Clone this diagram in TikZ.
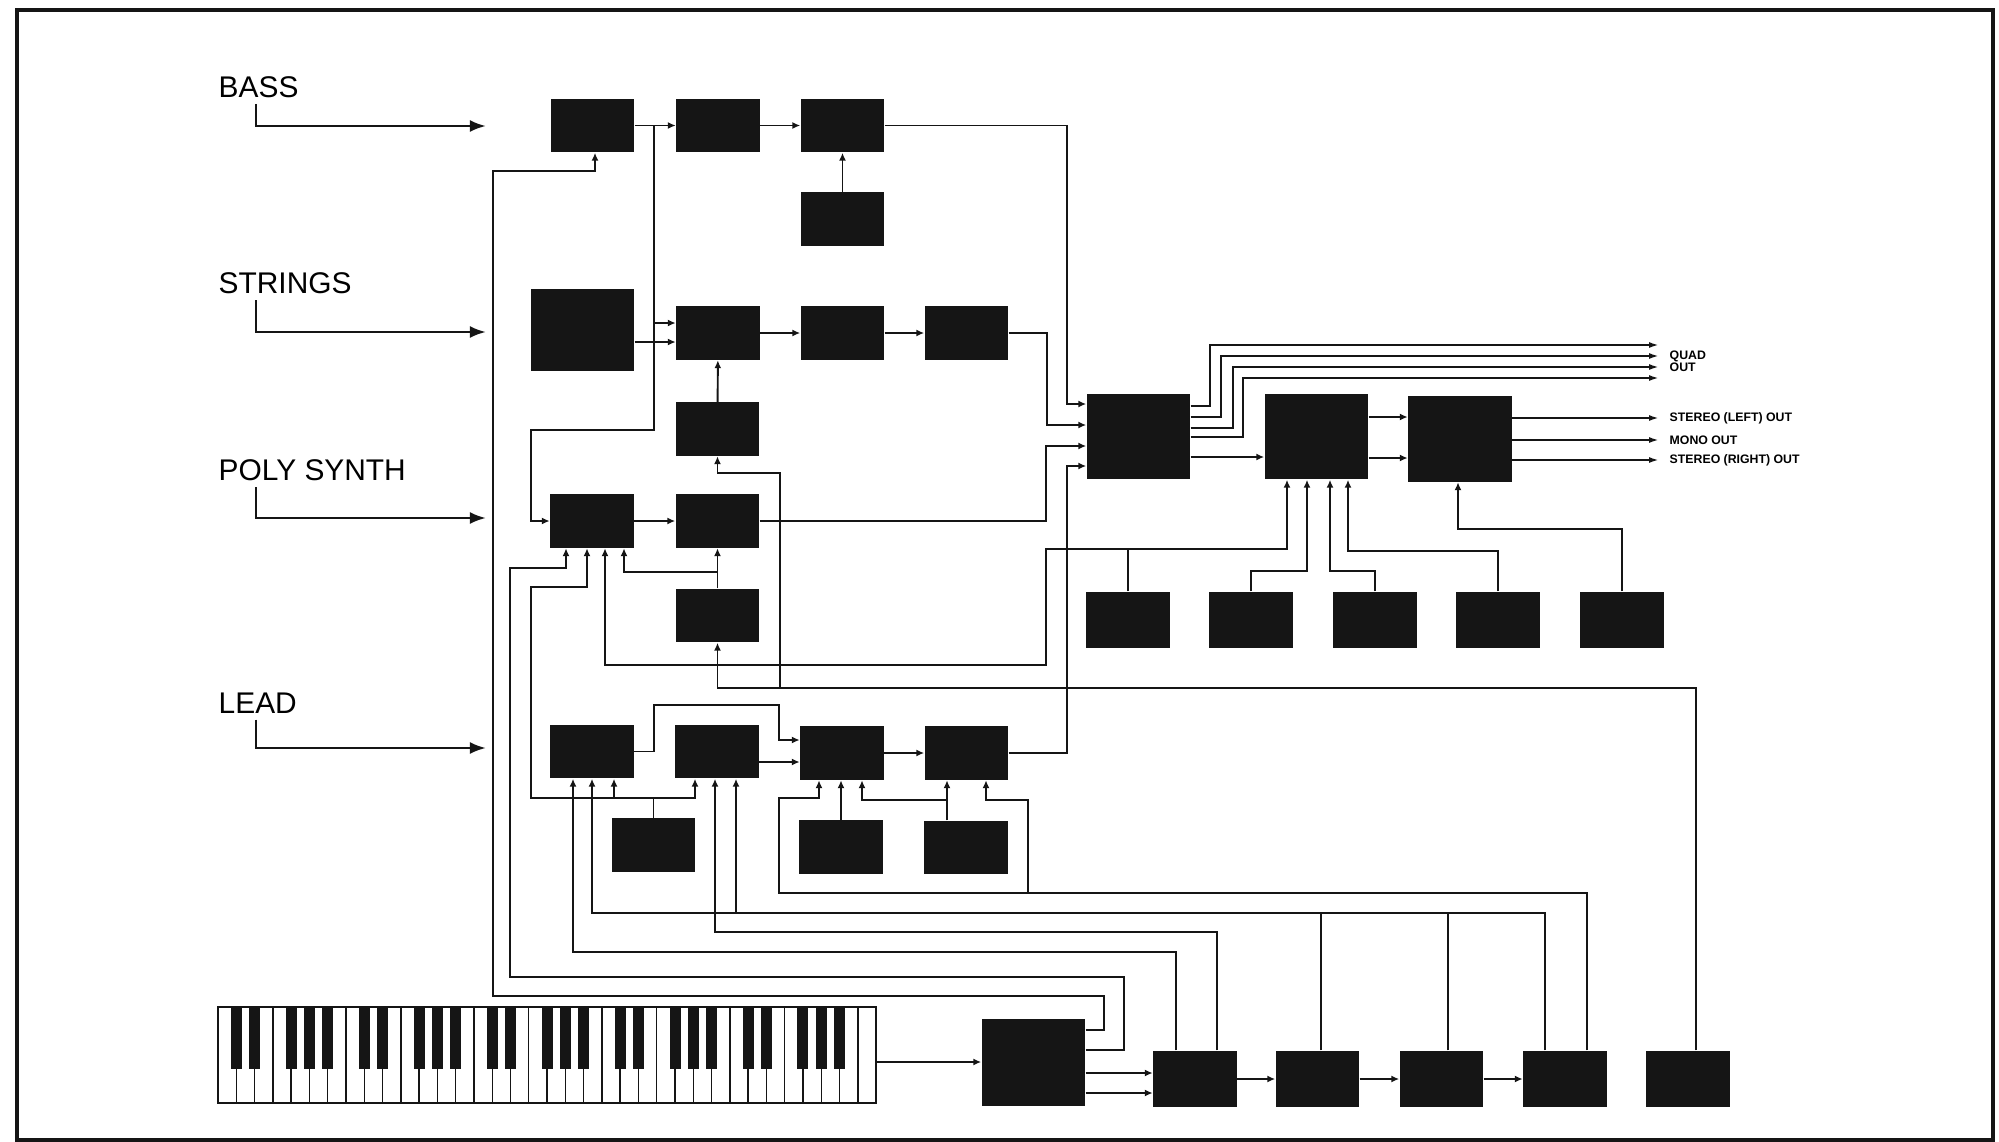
\documentclass[tikz,border=0pt]{standalone}
\usepackage{fontspec}
\setmainfont{Liberation Sans}
\usetikzlibrary{arrows.meta,calc}
\definecolor{ink}{HTML}{151515}

\begin{document}
\begin{tikzpicture}[x=0.01cm, y=-0.01cm,
    unit/.style={fill=ink, inner sep=0pt, minimum width=0.83cm, minimum height=0.53cm},
    big/.style={unit, minimum width=1.03cm, minimum height=0.85cm},
    low/.style={unit, minimum height=0.56cm},
    wire/.style={draw=ink, line width=0.55pt},
    arr/.style={wire, -{Latex[length=0.8mm,width=0.7mm]}},
    feed/.style={draw=ink, line width=0.75pt, -{Latex[length=1.6mm,width=1.2mm]}},
    outarr/.style={wire, -{Latex[length=1mm,width=0.6mm]}},
    voice/.style={font=\fontsize{8.5}{10}\selectfont, anchor=base west, inner sep=0pt},
    tag/.style={font=\fontsize{3.5}{4}\selectfont\bfseries, anchor=west, inner xsep=1mm, inner ysep=0pt}]
  \useasboundingbox (0,0) rectangle (1999,1142);
  \draw[ink, line width=1pt] (17,10) rectangle (1993,1140);

  \node[unit] (b1) at (592.5,125.5) {};
  \node[unit] (b2) at (718,125.5) {};
  \node[unit] (b3) at (842.5,125.5) {};
  \node[unit] (b4) at (842.5,219) {};
  \node[unit, minimum width=1.03cm, minimum height=0.82cm] (s0) at (582.5,330) {};
  \node[unit] (s1) at (718,333) {};
  \node[unit] (s2) at (842.5,333) {};
  \node[unit] (s3) at (966.5,333) {};
  \node[unit] (s4) at (717.5,429) {};
  \node[unit] (p1) at (592,521) {};
  \node[unit] (p2) at (717.5,521) {};
  \node[unit] (p3) at (717.5,615.5) {};
  \node[unit] (l1) at (592,751.5) {};
  \node[unit] (l2) at (717,751.5) {};
  \node[unit] (l3) at (842,753) {};
  \node[unit] (l4) at (966.5,753) {};
  \node[unit] (l5) at (653.5,845) {};
  \node[unit] (l6) at (841,847) {};
  \node[unit] (l7) at (966,847.5) {};
  \node[big] (m1) at (1138.5,436.5) {};
  \node[big] (m2) at (1316.5,436.5) {};
  \node[big] (m3) at (1460,439) {};
  \foreach \n/\x in {r1/1128,r2/1251,r3/1375,r4/1498,r5/1622}
    \node[low] (\n) at (\x,620) {};
  \node[big, minimum height=0.87cm] (k0) at (1033.5,1062.5) {};
  \foreach \n/\x in {k1/1195,k2/1317.5,k3/1441.5,k4/1565,k5/1688}
    \node[low] (\n) at (\x,1079) {};

  \node[draw=ink, line width=0.6pt, inner sep=0pt, minimum width=6.58cm, minimum height=0.96cm] (kbd) at (547,1055) {};
  \foreach \i in {1,...,35} \draw[ink, line width=0.4pt] ({218+\i*18.28},1007) -- ++(0,96);
  \foreach \o in {0,...,4}
    \foreach \k in {1,2,4,5,6}
      \fill[ink] ({212.5+(7*\o+\k)*18.28},1007) rectangle ++(11,62);

  \node[voice] (bass) at (218,97) {BASS};
  \node[voice] (strings) at (218,293) {STRINGS};
  \node[voice] (poly) at (218,480) {POLY SYNTH};
  \node[voice] (lead) at (218,713) {LEAD};
  \coordinate (bassin) at (486,126);
  \coordinate (stringsin) at (486,332);
  \coordinate (polyin) at (486,518);
  \coordinate (leadin) at (486,748);
  \foreach \v in {bass,strings,poly,lead}
    \draw[feed] ($(\v.south west)+(38,6)$) |- (\v in);

  \draw[arr] (b1) -- (b2);
  \draw[arr] (b2) -- (b3);
  \draw[arr] (b4) -- (b3);
  \draw[arr] (b3.east) -| (1067,404) -- (m1.west |- 0,404);
  \draw[arr] (b1.east -| 654,0) -- (654,323) -- (s1.west |- 0,323);
  \draw[arr] (654,323) -- (654,430) -| (531,521) -- (p1.west);

  \draw[arr] (s0.east |- 0,342) -- (s1.west |- 0,342);
  \draw[arr] (s1) -- (s2);
  \draw[arr] (s2) -- (s3);
  \draw[arr] (s4) -- (s1);
  \draw[arr] (s3.east) -| (1047,425) -- (m1.west |- 0,425);

  \draw[arr] (p1) -- (p2);
  \draw[arr] (p3) -- (p2);
  \draw[arr] (p3.north |- 0,572) -| (624,0 |- p1.south);
  \draw[arr] (p2.east) -| (1046,446) -- (m1.west |- 0,446);
  \draw[arr] (r1.north) |- (1287,549) -- (1287,0 |- m2.south);
  \draw[arr] (1128,549) -| (1046,665) -| (605,0 |- p1.south);
  \draw[arr] (1696,0 |- k5.north) |- (717.5,688) -- (p3.south);
  \draw[arr] (780,688) |- (717.5,473) -- (s4.south);
  \draw[arr] (k0.east |- 0,1030) -| (1104,996) -| (493,171) -| (595,0 |- b1.south);
  \draw[arr] (k0.east |- 0,1050) -| (1124,977) -| (510,568) -| (566,0 |- p1.south);

  \draw[arr] (l1.east) -| (654,705) -| (779,740) -- (l3.west |- 0,740);
  \draw[arr] (l2.east |- 0,762) -- (l3.west |- 0,762);
  \draw[arr] (l3) -- (l4);
  \draw[arr] (l4.east) -| (1067,466) -- (m1.west |- 0,466);
  \draw[arr] (l5.north) |- (531,798) |- (587,587) -- (587,0 |- p1.south);
  \draw[arr] (l5.north) |- (695,798) -- (695,0 |- l2.south);
  \draw[arr] (614,798) -- (614,0 |- l1.south);
  \draw[arr] (1176,0 |- k1.north) |- (573,952) -- (573,0 |- l1.south);
  \draw[arr] (1217,0 |- k1.north) |- (715,932) -- (715,0 |- l2.south);
  \draw[arr] (1545,0 |- k4.north) |- (592,913) -- (592,0 |- l1.south);
  \draw[arr] (736,913) -- (736,0 |- l2.south);
  \draw[wire] (1321,0 |- k2.north) -- (1321,913);
  \draw[wire] (1448,0 |- k3.north) -- (1448,913);
  \draw[arr] (1587,0 |- k4.north) |- (779,893) |- (819,798) -- (819,0 |- l3.south);
  \draw[arr] (1028,893) |- (986,800) -- (986,0 |- l4.south);
  \draw[arr] (l6.north) -- (l6.north |- l3.south);
  \draw[arr] (947,0 |- l7.north) -- (947,0 |- l4.south);
  \draw[arr] (947,800) -| (862,0 |- l3.south);

  \draw[arr] (m1.east |- 0,457) -- (m2.west |- 0,457);
  \draw[arr] (m2.east |- 0,417) -- (m3.west |- 0,417);
  \draw[arr] (m2.east |- 0,458) -- (m3.west |- 0,458);
  \foreach \i/\y/\x/\t in {1/406/1210/345, 2/417/1221/356, 3/428/1233/367, 4/437/1243/378} {
    \coordinate (quad\i) at (1659,\t);
    \draw[outarr] (m1.east |- 0,\y) -| (\x,\t) -- (quad\i);
  }
  \node[tag] (quad) at (quad2) {QUAD};
  \node[tag] (out) at (quad3) {OUT};
  \node[tag] (left) at (1659,418) {STEREO (LEFT) OUT};
  \node[tag] (mono) at (1659,440) {MONO OUT};
  \node[tag] (right) at (1659,460) {STEREO (RIGHT) OUT};
  \draw[outarr] (m3.east |- 0,418) -- (left.west);
  \draw[outarr] (m3.east |- 0,440) -- (mono.west);
  \draw[outarr] (m3.east |- 0,460) -- (right.west);
  \draw[arr] (r2.north) |- (1307,571) -- (1307,0 |- m2.south);
  \draw[arr] (r3.north) |- (1330,571) -- (1330,0 |- m2.south);
  \draw[arr] (r4.north) |- (1348,551) -- (1348,0 |- m2.south);
  \draw[arr] (r5.north) |- (1458,529) -- (1458,0 |- m3.south);

  \draw[arr] (kbd.east |- 0,1062) -- (k0.west |- 0,1062);
  \draw[arr] (k0.east |- 0,1073) -- (k1.west |- 0,1073);
  \draw[arr] (k0.east |- 0,1093) -- (k1.west |- 0,1093);
  \draw[arr] (k1) -- (k2);
  \draw[arr] (k2) -- (k3);
  \draw[arr] (k3) -- (k4);
\end{tikzpicture}
\end{document}
